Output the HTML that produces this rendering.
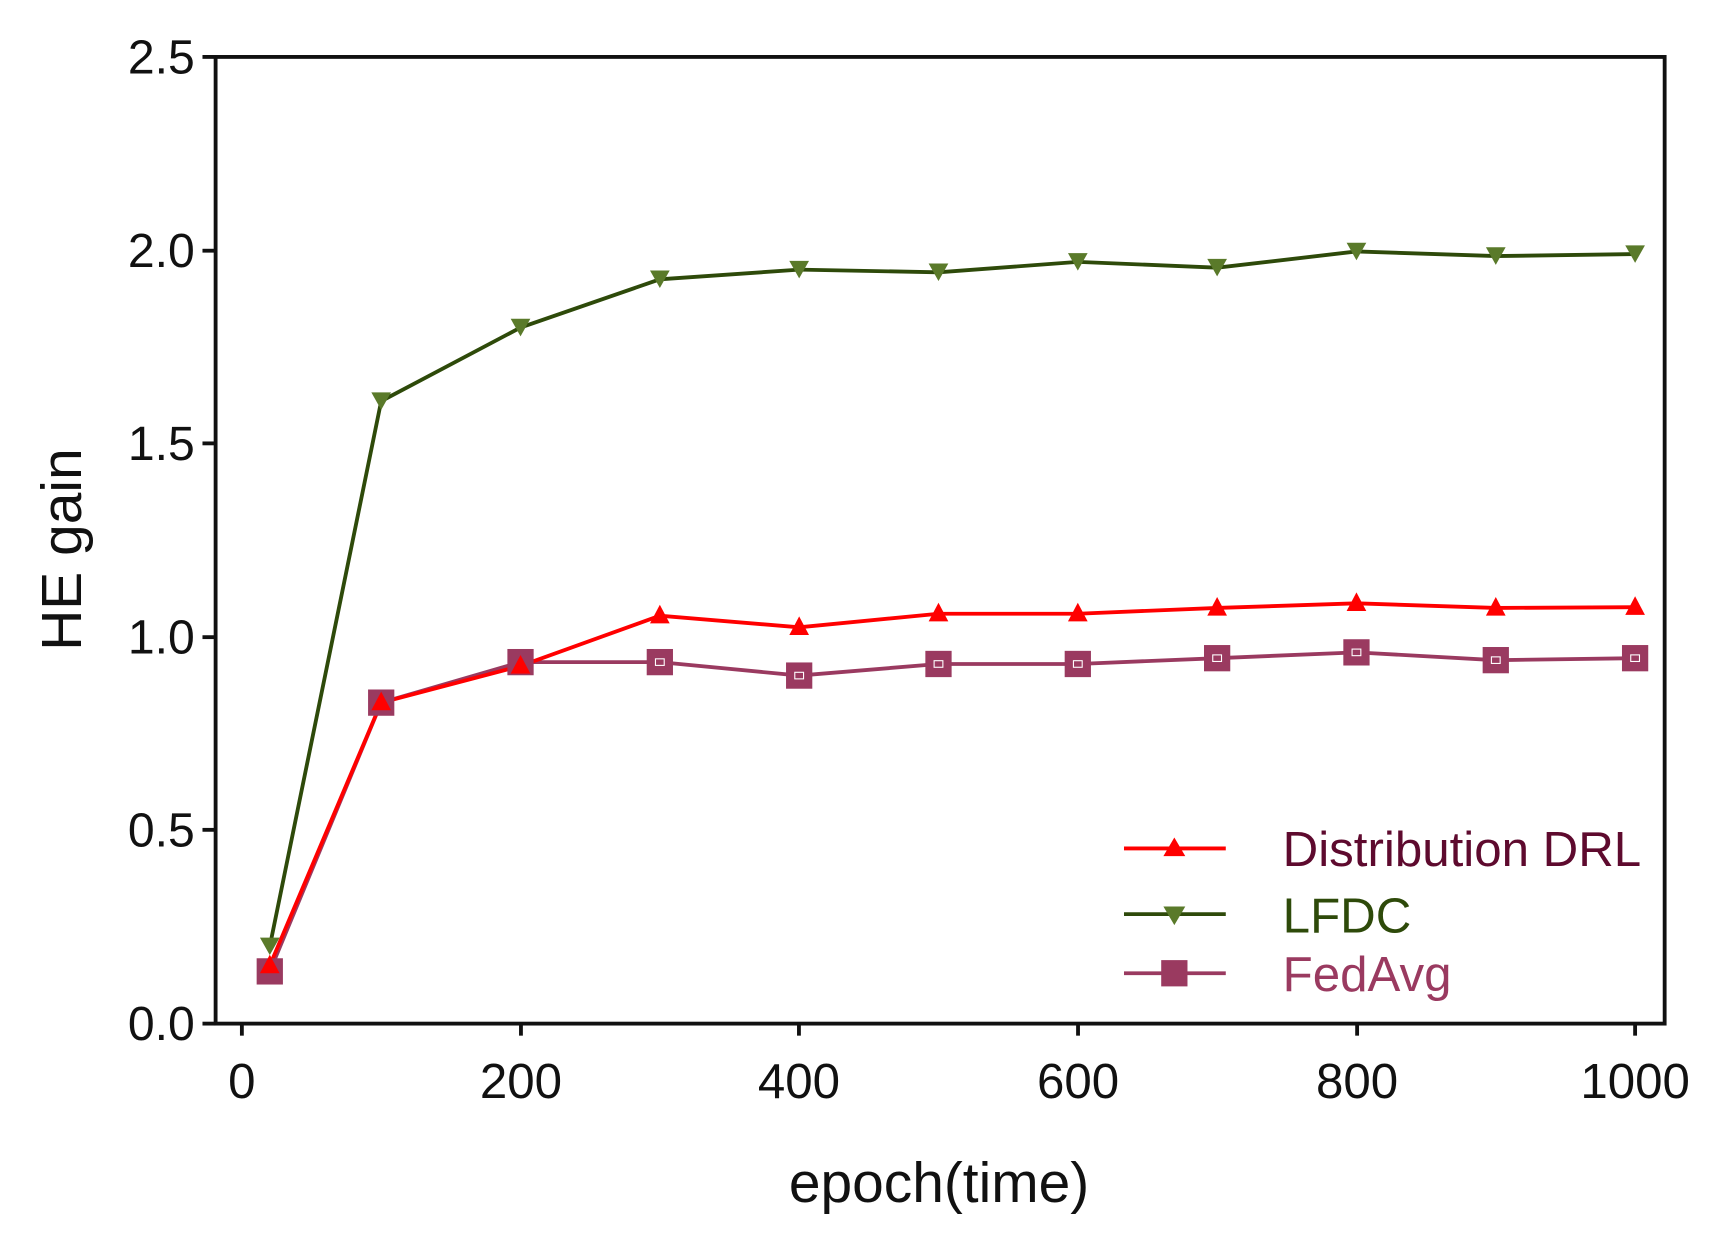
<!DOCTYPE html>
<html><head><meta charset="utf-8"><style>html,body{margin:0;padding:0;background:#fff}svg{display:block}</style></head>
<body>
<svg width="1715" height="1236" viewBox="0 0 1567 1129" preserveAspectRatio="none" xmlns="http://www.w3.org/2000/svg" font-family="Liberation Sans, sans-serif">
<rect width="1567" height="1129" fill="#fff"/>
<polyline fill="none" stroke="#2e4a0a" stroke-width="3.5" points="246.5,864.4 348.3,366.4 475.6,299.2 602.9,255.1 730.2,246.3 857.5,248.7 984.8,239.2 1112.1,244.5 1239.4,229.7 1366.7,233.9 1494,232.1"/>
<polyline fill="none" stroke="#9a3a60" stroke-width="3.5" points="246.5,887.3 348.3,641.8 475.6,604.8 602.9,604.8 730.2,617.1 857.5,606.5 984.8,606.5 1112.1,601.2 1239.4,595.9 1366.7,603 1494,601.2"/>
<polyline fill="none" stroke="#f00" stroke-width="3.5" points="246.5,882 348.3,641.8 475.6,608.3 602.9,562.4 730.2,573 857.5,560.6 984.8,560.6 1112.1,555.3 1239.4,551.1 1366.7,555.3 1494,554.6"/>
<g fill="#5a7a2a">
<polygon points="237.5,856.4 255.5,856.4 246.5,872.4"/>
<polygon points="339.3,358.4 357.3,358.4 348.3,374.4"/>
<polygon points="466.6,291.2 484.6,291.2 475.6,307.2"/>
<polygon points="593.9,247.1 611.9,247.1 602.9,263.1"/>
<polygon points="721.2,238.3 739.2,238.3 730.2,254.3"/>
<polygon points="848.5,240.7 866.5,240.7 857.5,256.7"/>
<polygon points="975.8,231.2 993.8,231.2 984.8,247.2"/>
<polygon points="1103.1,236.5 1121.1,236.5 1112.1,252.5"/>
<polygon points="1230.4,221.7 1248.4,221.7 1239.4,237.7"/>
<polygon points="1357.7,225.9 1375.7,225.9 1366.7,241.9"/>
<polygon points="1485,224.1 1503,224.1 1494,240.1"/>
</g>
<g fill="#9a3a60">
<rect x="234.5" y="875.3" width="24" height="24"/>
<rect x="336.3" y="629.8" width="24" height="24"/>
<rect x="463.6" y="592.8" width="24" height="24"/>
<rect x="590.9" y="592.8" width="24" height="24"/>
<rect x="718.2" y="605.1" width="24" height="24"/>
<rect x="845.5" y="594.5" width="24" height="24"/>
<rect x="972.8" y="594.5" width="24" height="24"/>
<rect x="1100.1" y="589.2" width="24" height="24"/>
<rect x="1227.4" y="583.9" width="24" height="24"/>
<rect x="1354.7" y="591" width="24" height="24"/>
<rect x="1482" y="589.2" width="24" height="24"/>
</g>
<g fill="none" stroke="#fff" stroke-width="1">
<rect x="598.9" y="601.8" width="8" height="6"/><rect x="726.2" y="614.1" width="8" height="6"/><rect x="853.5" y="603.5" width="8" height="6"/><rect x="980.8" y="603.5" width="8" height="6"/><rect x="1108.1" y="598.2" width="8" height="6"/><rect x="1235.4" y="592.9" width="8" height="6"/><rect x="1362.7" y="600" width="8" height="6"/><rect x="1490" y="598.2" width="8" height="6"/>
</g>
<g fill="#f00">
<polygon points="246.5,872 255.5,889 237.5,889"/>
<polygon points="348.3,631.8 357.3,648.8 339.3,648.8"/>
<polygon points="475.6,598.3 484.6,615.3 466.6,615.3"/>
<polygon points="602.9,552.4 611.9,569.4 593.9,569.4"/>
<polygon points="730.2,563 739.2,580 721.2,580"/>
<polygon points="857.5,550.6 866.5,567.6 848.5,567.6"/>
<polygon points="984.8,550.6 993.8,567.6 975.8,567.6"/>
<polygon points="1112.1,545.3 1121.1,562.3 1103.1,562.3"/>
<polygon points="1239.4,541.1 1248.4,558.1 1230.4,558.1"/>
<polygon points="1366.7,545.3 1375.7,562.3 1357.7,562.3"/>
<polygon points="1494,544.6 1503,561.6 1485,561.6"/>
</g>
<rect x="197" y="52" width="1324" height="883" fill="none" stroke="#111" stroke-width="3.5"/>
<g font-size="44" fill="#111" text-anchor="end">
<text x="178" y="950">0.0</text><text x="178" y="773">0.5</text><text x="178" y="597">1.0</text><text x="178" y="420">1.5</text><text x="178" y="244">2.0</text><text x="178" y="67">2.5</text>
</g>
<g stroke="#111" stroke-width="3.5">
<line x1="185" y1="935" x2="197" y2="935"/><line x1="185" y1="758" x2="197" y2="758"/><line x1="185" y1="582" x2="197" y2="582"/><line x1="185" y1="405" x2="197" y2="405"/><line x1="185" y1="229" x2="197" y2="229"/><line x1="185" y1="52" x2="197" y2="52"/>
<line x1="221" y1="935" x2="221" y2="946"/><line x1="476" y1="935" x2="476" y2="946"/><line x1="730" y1="935" x2="730" y2="946"/><line x1="985" y1="935" x2="985" y2="946"/><line x1="1240" y1="935" x2="1240" y2="946"/><line x1="1494" y1="935" x2="1494" y2="946"/>
</g>
<g font-size="45" fill="#111" text-anchor="middle">
<text x="221" y="1003">0</text><text x="476" y="1003">200</text><text x="730" y="1003">400</text><text x="985" y="1003">600</text><text x="1240" y="1003">800</text><text x="1494" y="1003">1000</text>
<text x="858" y="1098" font-size="52">epoch(time)</text>
<text transform="translate(74,502) rotate(-90)" font-size="52">HE gain</text>
</g>
<g>
<line x1="1027" y1="775" x2="1120" y2="775" stroke="#f00" stroke-width="3.5"/>
<polygon points="1073,765 1083,782 1063,782" fill="#f00"/>
<text x="1172" y="791" font-size="45" fill="#5e0a2e">Distribution DRL</text>
<line x1="1027" y1="835" x2="1120" y2="835" stroke="#2e4a0a" stroke-width="3.5"/>
<polygon points="1063,828 1083,828 1073,845" fill="#5a7a2a"/>
<text x="1172" y="852" font-size="45" fill="#2e4a0a">LFDC</text>
<line x1="1027" y1="889" x2="1120" y2="889" stroke="#9a3a60" stroke-width="3.5"/>
<rect x="1061" y="877" width="24" height="24" fill="#9a3a60"/>
<text x="1172" y="905" font-size="45" fill="#9a3a60">FedAvg</text>
</g>
</svg>
</body></html>
